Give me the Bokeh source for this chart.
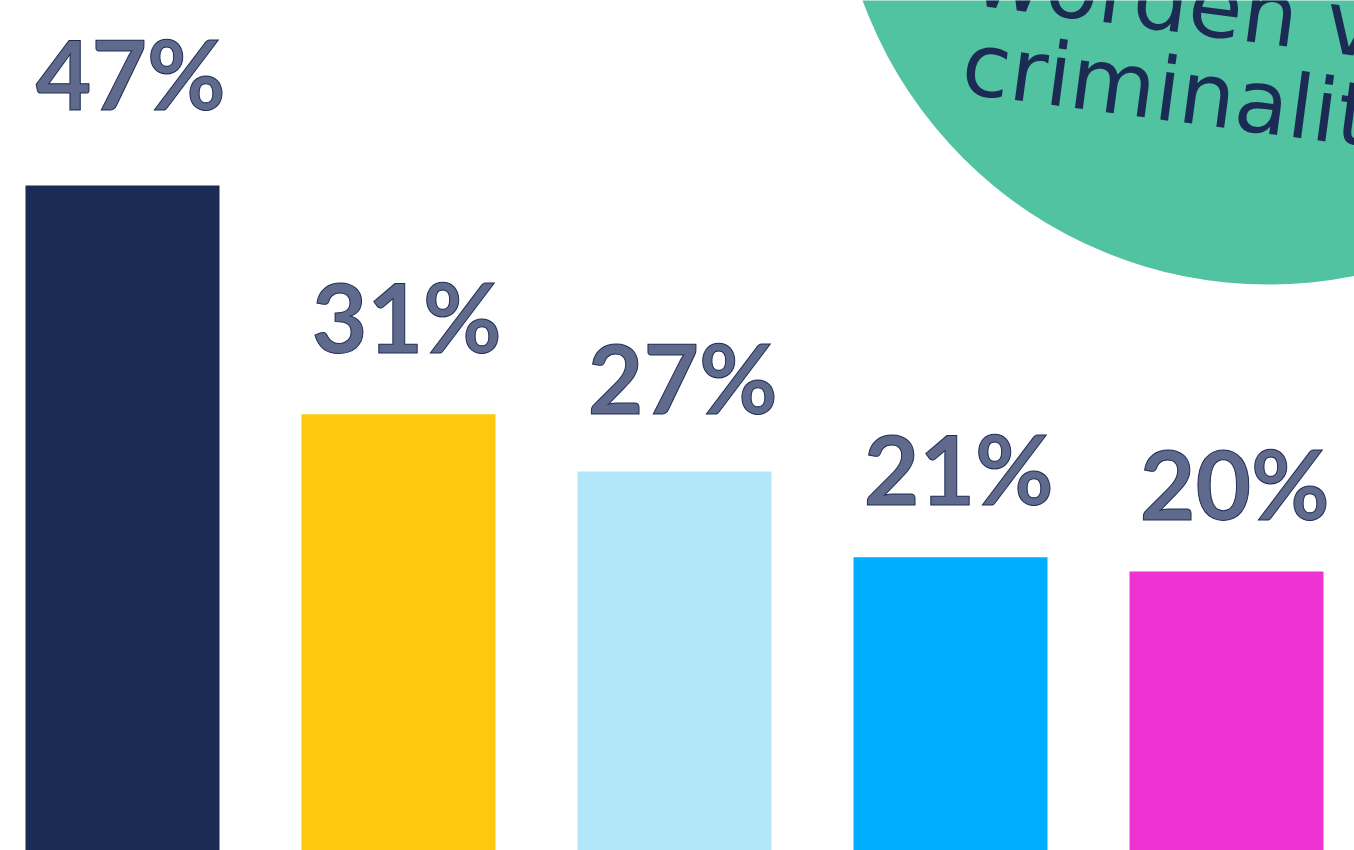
from bokeh.plotting import figure
from bokeh.models import Range1d, ColumnDataSource
from bokeh.core.properties import value
from bokeh.embed import file_html
from bokeh.resources import INLINE

# ---- data ----
values = [47, 31, 27, 21, 20]
labels = ["47%", "31%", "27%", "21%", "20%"]
colors = ["#1c2b53", "#ffc70e", "#b1e7f9", "#00aeff", "#ef33d3"]
circle_lines = ["worden van", "criminaliteit"]

NAVY = "#1c2b54"
GREEN = "#51c3a0"

W, H = 1354, 850
SLOT = 276.0          # px per category
PX_PER_PCT = 14.296   # px per percentage point
X0_PX = 122.0         # px centre of first bar
BASE_PX = 857.0       # px of the zero line (just below the window)

def xd(px):
    return (px - X0_PX) / SLOT

def yd(py):
    return (BASE_PX - py) / PX_PER_PCT

p = figure(width=W, height=H, output_backend="svg", toolbar_location=None,
           x_range=Range1d(xd(0), xd(W)), y_range=Range1d(yd(H), yd(0)),
           min_border=0)
p.axis.visible = False
p.grid.visible = False
p.outline_line_color = None
p.background_fill_color = "white"
p.border_fill_color = "white"

idx = list(range(len(values)))
src = ColumnDataSource(dict(x=idx, top=values, color=colors, label=labels,
                            lx=[i + 0.03 for i in idx],
                            ly=[v * 1.062 + 5.0 for v in values]))

# decorative circle
p.scatter(x=[xd(1268)], y=[yd(-148)], size=864, marker="circle",
          fill_color=GREEN, line_color=None)

angle = -0.1326
p.text(x=[xd(974.4), xd(962.6)], y=[yd(9.7 - 36), yd(97.9 - 36)], text=circle_lines,
       angle=angle, text_font=value("DejaVu Sans"), text_font_size="88px",
       text_color=NAVY, text_align="left", text_baseline="alphabetic")

p.vbar(x="x", top="top", bottom=0, width=194 / SLOT, fill_color="color",
       line_color=None, source=src)

kw = dict(x="lx", y="ly", text="label", source=src,
          text_font=value("Lato"), text_font_style="bold", text_font_size="96px",
          text_align="center", text_baseline="alphabetic")
try:
    p.text(text_color="#5f6a8c", text_outline_color=NAVY, **kw)
except Exception:
    p.text(text_color=NAVY, **kw)

open("out.html", "w").write(file_html(p, INLINE))
